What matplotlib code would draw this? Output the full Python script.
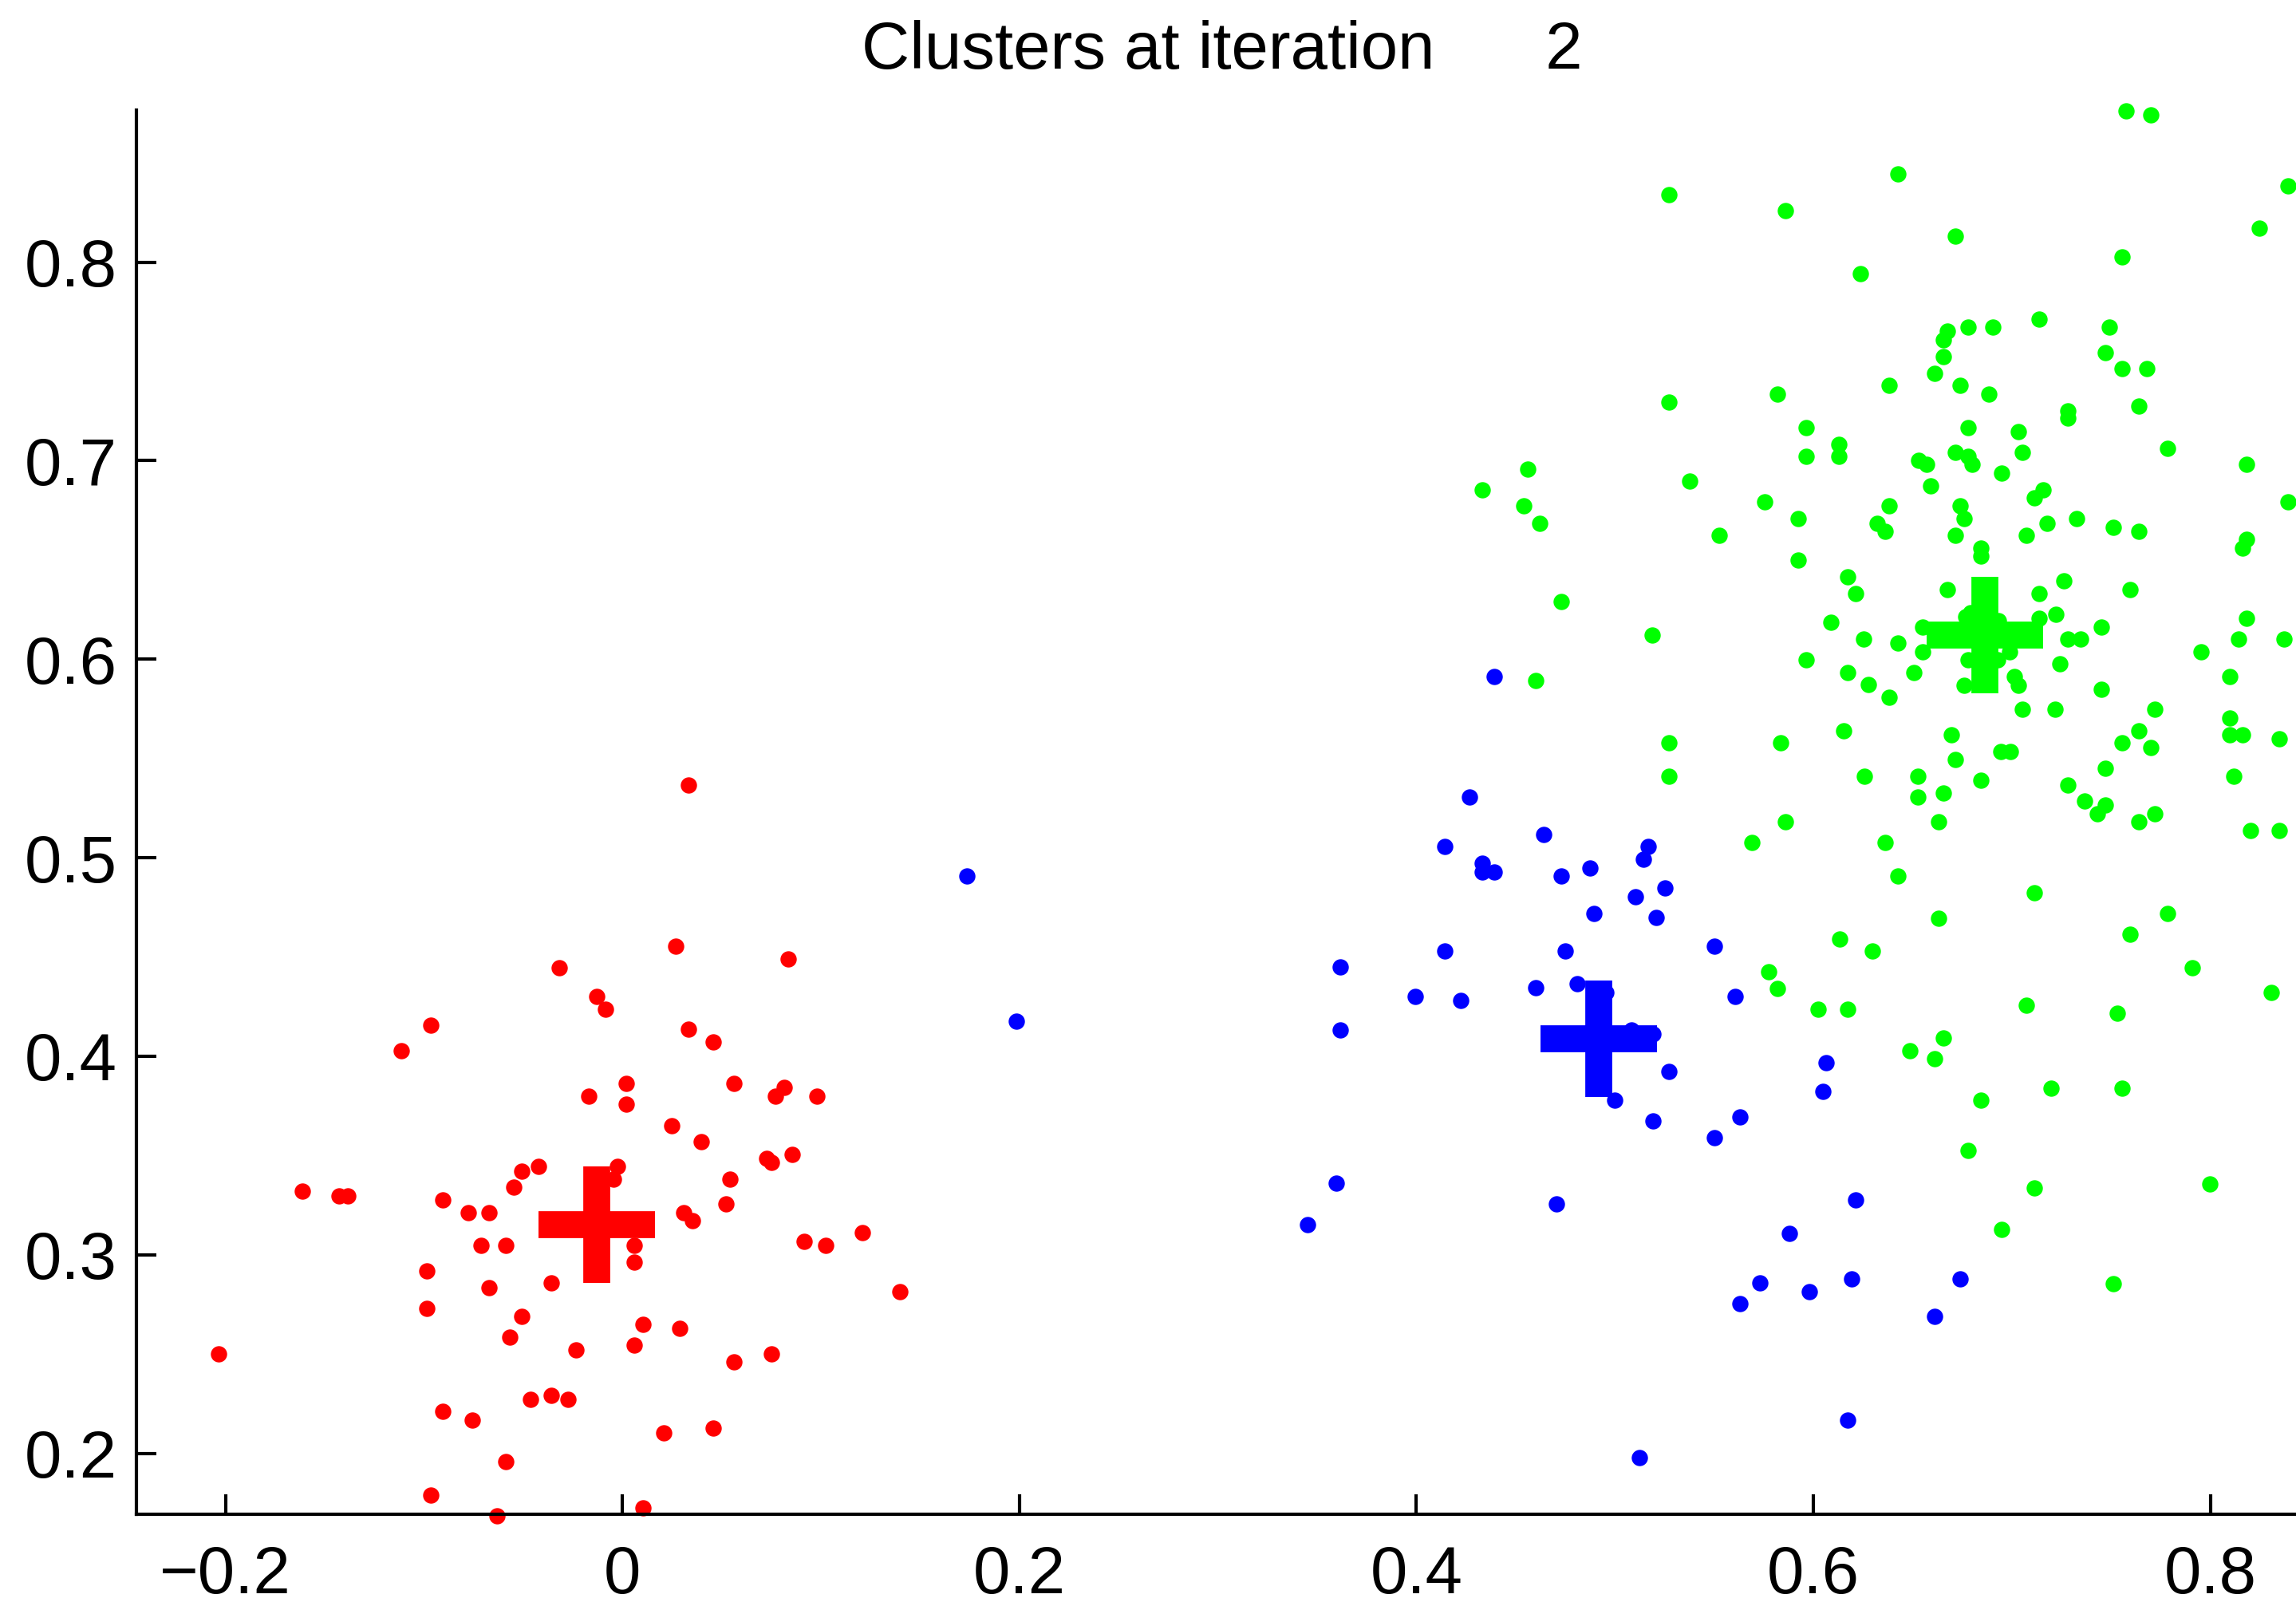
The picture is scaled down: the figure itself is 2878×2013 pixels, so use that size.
import matplotlib
matplotlib.use('Agg')
import matplotlib.pyplot as plt

# cluster 1 (red)
red_x = [0.0333, 0.0268, 0.0833, -0.0318, -0.0129, -0.0087, -0.0966, -0.1114, 0.0333, 0.0457,
         0.0017, -0.0170, 0.0017, 0.0561, 0.0771, 0.0813, 0.0981, 0.0247, 0.0395, -0.0507,
         -0.0424, -0.0025, -0.0046, -0.0548, 0.0727, 0.0750, 0.0854, 0.0541, -0.1614, -0.1427,
         -0.1386, -0.0904, -0.0777, -0.0673, 0.0310, 0.0351, 0.0520, -0.0714, -0.0590, 0.0061,
         0.0061, 0.0916, 0.1023, 0.1210, -0.0987, -0.0673, -0.0359, 0.1399, -0.0987, -0.0507,
         -0.0569, 0.0102, 0.0289, -0.0235, 0.0061, 0.0561, 0.0750, -0.2034, -0.0904, -0.0758,
         -0.0465, -0.0359, -0.0276, 0.0206, 0.0457, -0.0590, -0.0966, -0.0632, 0.0102]
red_y = [0.5368, 0.4553, 0.4492, 0.4447, 0.4302, 0.4238, 0.4157, 0.4029, 0.4135, 0.4071,
         0.3864, 0.3800, 0.3758, 0.3864, 0.3800, 0.3842, 0.3800, 0.3652, 0.3569, 0.3423,
         0.3446, 0.3446, 0.3382, 0.3340, 0.3487, 0.3465, 0.3507, 0.3382, 0.3320, 0.3298,
         0.3298, 0.3276, 0.3212, 0.3212, 0.3212, 0.3170, 0.3256, 0.3047, 0.3047, 0.3047,
         0.2963, 0.3067, 0.3047, 0.3111, 0.2919, 0.2835, 0.2857, 0.2816, 0.2729, 0.2690,
         0.2584, 0.2648, 0.2629, 0.2520, 0.2543, 0.2459, 0.2501, 0.2501, 0.2210, 0.2166,
         0.2272, 0.2291, 0.2272, 0.2104, 0.2127, 0.1957, 0.1789, 0.1684, 0.1725]

# cluster 2 (blue)
blue_x = [0.4393, 0.4267, 0.4141, 0.4642, 0.4331, 0.4331, 0.4393, 0.4728, 0.4873, 0.5168,
          0.5143, 0.5103, 0.5251, 0.4894, 0.5208, 0.1735, 0.1984, 0.3618, 0.3618, 0.4141,
          0.4750, 0.5503, 0.3996, 0.4224, 0.4602, 0.4811, 0.4956, 0.5605, 0.5082, 0.5193,
          0.5273, 0.4999, 0.5190, 0.5503, 0.5629, 0.6066, 0.6048, 0.3596, 0.3452, 0.4707,
          0.6214, 0.5879, 0.5731, 0.5980, 0.6192, 0.5629, 0.6171, 0.5125, 0.6612, 0.6738]
blue_y = [0.5913, 0.5306, 0.5055, 0.5118, 0.4971, 0.4929, 0.4929, 0.4908, 0.4950, 0.5055,
          0.4992, 0.4804, 0.4846, 0.4720, 0.4699, 0.4909, 0.4176, 0.4448, 0.4134, 0.4532,
          0.4532, 0.4553, 0.4302, 0.4281, 0.4344, 0.4364, 0.4323, 0.4302, 0.4134, 0.4113,
          0.3925, 0.3779, 0.3674, 0.3590, 0.3695, 0.3967, 0.3821, 0.3360, 0.3151, 0.3256,
          0.3277, 0.3109, 0.2858, 0.2816, 0.2879, 0.2754, 0.2168, 0.1980, 0.2688, 0.2877]

# cluster 3 (green)
green_x = [0.5273, 0.5859, 0.6236, 0.5273, 0.5817, 0.5963, 0.5963, 0.6130, 0.6130, 0.4560,
           0.4331, 0.4539, 0.4623, 0.5377, 0.5755, 0.5525, 0.5923, 0.5923, 0.6172, 0.6214,
           0.6089, 0.6255, 0.5963, 0.6172, 0.6276, 0.4728, 0.5188, 0.4601,
           0.7575, 0.7702, 0.6424, 0.8392, 0.8245, 0.6717, 0.7554, 0.7136, 0.7492, 0.6675,
           0.6655, 0.6780, 0.6905, 0.6655, 0.7471, 0.7554, 0.7680, 0.6612, 0.6382, 0.6739,
           0.6885, 0.7639, 0.7283, 0.7283, 0.6780, 0.7032, 0.7785, 0.6717, 0.6780, 0.6801,
           0.7051, 0.6529, 0.6570, 0.8183, 0.6948, 0.6591, 0.7156, 0.7115, 0.6382, 0.6739,
           0.6760, 0.6320, 0.6362, 0.6717, 0.6843, 0.6843, 0.7073, 0.7178, 0.7325, 0.7513,
           0.7639, 0.8392, 0.8183, 0.8162, 0.6675, 0.7136, 0.7261, 0.7596, 0.7136, 0.7220,
           0.8183, 0.6550, 0.6424, 0.6550, 0.7283, 0.7346, 0.7451, 0.7954, 0.8142, 0.8371,
           0.6508, 0.6382, 0.7242, 0.8099, 0.7451, 0.6760, 0.6769, 0.6790, 0.6932, 0.6780,
           0.6930, 0.6990, 0.7011, 0.7032, 0.8470,
           0.7051, 0.7217, 0.7722, 0.8100, 0.8100, 0.8164, 0.8349, 0.7639, 0.7555, 0.7702,
           0.7471, 0.7281, 0.7367, 0.7471, 0.7429, 0.7639, 0.7722, 0.8120, 0.8204, 0.8349,
           0.5837, 0.6153, 0.6696, 0.6946, 0.6991, 0.6716, 0.6257, 0.6528, 0.6528, 0.6654,
           0.6842, 0.6632, 0.5859, 0.5691, 0.6360, 0.6424, 0.7115, 0.6632, 0.7784, 0.7597,
           0.7910, 0.8308, 0.6131, 0.6299, 0.5775, 0.5817, 0.6025, 0.6173, 0.7073, 0.7533,
           0.6654, 0.6488, 0.6612, 0.7199, 0.7555, 0.6842, 0.6780, 0.7115, 0.7996, 0.6948,
           0.7513, 0.5273, 0.5273]
green_y = [0.8342, 0.8260, 0.7944, 0.7296, 0.7337, 0.7168, 0.7023, 0.7084, 0.7023, 0.6959,
           0.6855, 0.6771, 0.6686, 0.6898, 0.6791, 0.6625, 0.6709, 0.6500, 0.6416, 0.6332,
           0.6186, 0.6102, 0.5997, 0.5934, 0.5872, 0.6291, 0.6122, 0.5893,
           0.8760, 0.8740, 0.8446, 0.8383, 0.8173, 0.8132, 0.8028, 0.7714, 0.7673, 0.7653,
           0.7607, 0.7673, 0.7673, 0.7525, 0.7546, 0.7464, 0.7464, 0.7441, 0.7378, 0.7378,
           0.7337, 0.7275, 0.7250, 0.7215, 0.7168, 0.7148, 0.7064, 0.7043, 0.7023, 0.6980,
           0.7043, 0.7002, 0.6980, 0.6980, 0.6939, 0.6875, 0.6855, 0.6814, 0.6771, 0.6771,
           0.6709, 0.6686, 0.6645, 0.6625, 0.6561, 0.6520, 0.6625, 0.6686, 0.6709, 0.6666,
           0.6645, 0.6791, 0.6604, 0.6561, 0.6352, 0.6332, 0.6395, 0.6352, 0.6207, 0.6227,
           0.6207, 0.6163, 0.6081, 0.6038, 0.6102, 0.6102, 0.6163, 0.6038, 0.6102, 0.6102,
           0.5934, 0.5809, 0.5975, 0.5913, 0.5850, 0.5870, 0.6215, 0.6235, 0.6192, 0.5997,
           0.5997, 0.6038, 0.5913, 0.5870, 0.7590,
           0.5746, 0.5746, 0.5746, 0.5704, 0.5620, 0.5620, 0.5599, 0.5641, 0.5578, 0.5557,
           0.5452, 0.5368, 0.5286, 0.5265, 0.5223, 0.5181, 0.5223, 0.5410, 0.5139, 0.5139,
           0.5578, 0.5641, 0.5620, 0.5536, 0.5536, 0.5494, 0.5410, 0.5410, 0.5305, 0.5326,
           0.5389, 0.5181, 0.5181, 0.5076, 0.5076, 0.4907, 0.4823, 0.4697, 0.4718, 0.4613,
           0.4447, 0.4323, 0.4592, 0.4531, 0.4426, 0.4342, 0.4237, 0.4237, 0.4258, 0.4218,
           0.4092, 0.4029, 0.3987, 0.3840, 0.3840, 0.3777, 0.3526, 0.3337, 0.3358, 0.3127,
           0.2856, 0.5578, 0.5410]

# cluster centres
centroid_x = [-0.0128, 0.4917, 0.6865]
centroid_y = [0.3150, 0.4090, 0.6122]
cluster_colors = ['#ff0000', '#0000ff', '#00ff00']

xticks = [-0.2, 0, 0.2, 0.4, 0.6, 0.8]
xticklabels = ['\u22120.2', '0', '0.2', '0.4', '0.6', '0.8']
yticks = [0.2, 0.3, 0.4, 0.5, 0.6, 0.7, 0.8]
yticklabels = ['0.2', '0.3', '0.4', '0.5', '0.6', '0.7', '0.8']
title_text = 'Clusters at iteration      2'

plt.rcParams['font.family'] = ['Liberation Sans', 'DejaVu Sans']

W, H = 2879, 2013
fig = plt.figure(figsize=(W / 300, H / 300), dpi=300)
ax = fig.add_axes([170.8 / W, 115 / H, (2893 - 170.8) / W, (1898 - 138) / H])

clusters = [(red_x, red_y), (blue_x, blue_y), (green_x, green_y)]
for (xs, ys), c in zip(clusters, cluster_colors):
    ax.plot(xs, ys, 'o', color=c, markersize=4.9, markeredgewidth=0, clip_on=False)
for cx, cy, c in zip(centroid_x, centroid_y, cluster_colors):
    ax.plot(cx, cy, '+', color=c, markersize=35, markeredgewidth=8.1)

ax.set_xlim(-0.245, 0.8492)
ax.set_ylim(0.1693, 0.8766)
ax.spines['top'].set_visible(False)
ax.spines['right'].set_visible(False)
ax.spines['left'].set_linewidth(1.0)
ax.spines['bottom'].set_linewidth(1.0)
ax.set_xticks(xticks, xticklabels)
ax.set_yticks(yticks, yticklabels)
ax.tick_params(axis='both', direction='in', length=5.9, width=1.0, labelsize=20)
ax.tick_params(axis='x', pad=9.0)
ax.tick_params(axis='y', pad=5.8)

fig.text(1532 / W, 1 - 86 / H, title_text, ha='center', va='baseline', fontsize=20)

fig.savefig('out.png', dpi=300)
plt.close(fig)
